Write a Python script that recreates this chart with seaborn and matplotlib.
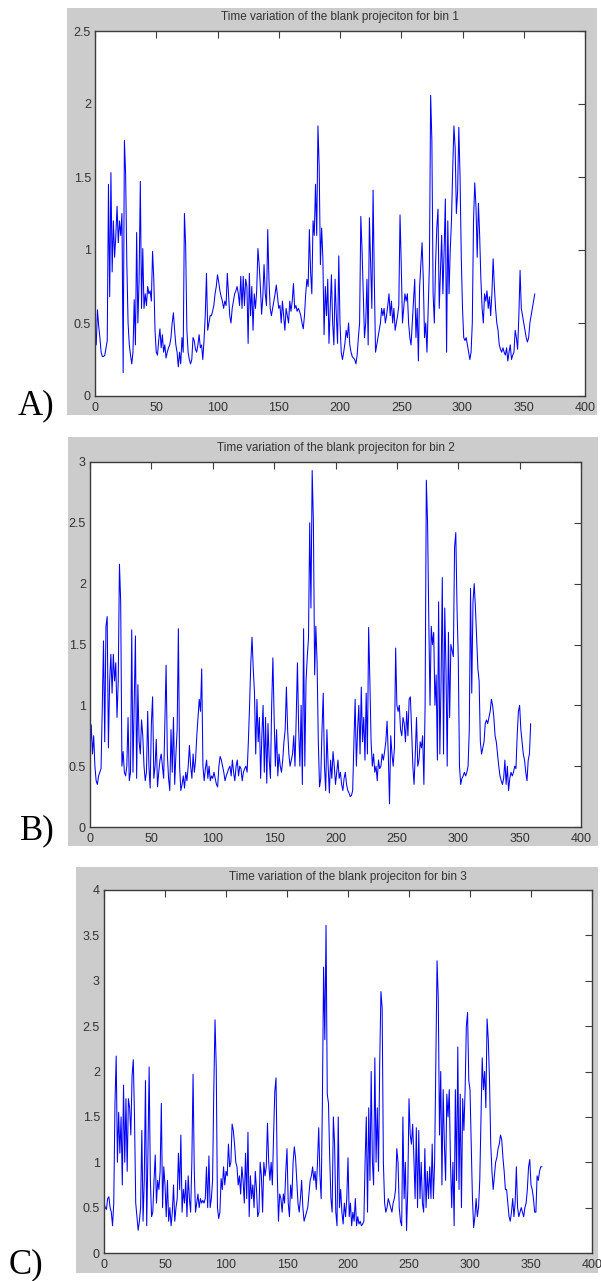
import numpy as np
import pandas as pd
import matplotlib
matplotlib.use("Agg")
import matplotlib.pyplot as plt
from matplotlib.patches import Rectangle
import seaborn as sns

# Blank projection values per time step (bins 1-3)
bin1 = [
    0.40, 0.35, 0.59, 0.48, 0.40, 0.30, 0.27, 0.27, 0.28, 0.33,
    0.38, 1.45, 0.68, 1.53, 0.85, 1.20, 0.95, 1.10, 1.30, 1.05,
    1.20, 1.10, 1.25, 0.16, 1.75, 1.52, 0.90, 0.50, 0.35, 0.28,
    0.22, 0.30, 0.66, 0.35, 1.12, 0.50, 0.80, 1.47, 0.60, 1.01,
    0.60, 0.70, 0.62, 0.75, 0.70, 0.72, 0.65, 0.99, 0.80, 0.45,
    0.30, 0.28, 0.38, 0.46, 0.33, 0.42, 0.30, 0.35, 0.26, 0.30,
    0.33, 0.35, 0.40, 0.50, 0.57, 0.45, 0.35, 0.30, 0.20, 0.30,
    0.22, 0.40, 0.30, 1.25, 1.03, 0.45, 0.30, 0.25, 0.22, 0.25,
    0.40, 0.38, 0.32, 0.30, 0.35, 0.42, 0.33, 0.35, 0.25, 0.38,
    0.55, 0.84, 0.45, 0.50, 0.55, 0.55, 0.58, 0.62, 0.70, 0.75,
    0.83, 0.78, 0.72, 0.68, 0.65, 0.60, 0.65, 0.62, 0.84, 0.70,
    0.55, 0.50, 0.60, 0.65, 0.70, 0.72, 0.75, 0.70, 0.62, 0.82,
    0.60, 0.82, 0.62, 0.80, 0.75, 0.36, 0.84, 0.55, 0.75, 0.45,
    0.70, 0.60, 0.72, 1.01, 0.90, 0.75, 0.56, 0.68, 0.90, 0.70,
    0.62, 1.14, 0.80, 0.60, 0.55, 0.60, 0.65, 0.70, 0.76, 0.68,
    0.60, 0.62, 0.50, 0.65, 0.55, 0.45, 0.60, 0.55, 0.50, 0.65,
    0.58, 0.65, 0.77, 0.60, 0.62, 0.58, 0.60, 0.58, 0.55, 0.50,
    0.46, 0.55, 0.70, 0.80, 0.75, 1.14, 0.85, 0.70, 1.20, 1.10,
    1.45, 1.10, 1.85, 1.57, 0.90, 1.15, 0.95, 0.42, 0.75, 0.55,
    0.80, 0.36, 0.60, 0.83, 0.50, 0.35, 0.80, 0.55, 0.36, 0.96,
    0.50, 0.30, 0.25, 0.30, 0.36, 0.45, 0.40, 0.50, 0.35, 0.30,
    0.27, 0.26, 0.25, 0.22, 0.28, 0.40, 0.50, 1.23, 1.00, 0.70,
    0.40, 0.50, 0.80, 0.35, 1.22, 0.90, 0.60, 1.41, 0.80, 0.30,
    0.35, 0.40, 0.45, 0.50, 0.60, 0.55, 0.60, 0.50, 0.55, 0.62,
    0.70, 0.55, 0.65, 0.50, 0.60, 0.45, 0.50, 0.55, 0.62, 1.24,
    0.90, 0.50, 0.60, 0.70, 0.65, 0.70, 0.50, 0.40, 0.35, 0.50,
    0.65, 0.80, 0.40, 0.60, 0.24, 0.75, 0.90, 1.05, 0.80, 0.40,
    0.50, 0.30, 0.60, 0.90, 2.06, 1.75, 0.70, 0.50, 0.90, 1.15,
    1.28, 0.60, 0.85, 1.10, 0.70, 1.00, 1.35, 0.30, 1.20, 0.70,
    1.00, 1.20, 1.55, 1.85, 1.70, 1.25, 1.40, 1.84, 1.50, 0.95,
    0.60, 0.40, 0.38, 0.40, 0.35, 0.30, 0.25, 0.30, 0.50, 1.20,
    1.46, 1.30, 0.95, 1.32, 1.10, 0.80, 0.60, 0.50, 0.70, 0.65,
    0.72, 0.60, 0.68, 0.55, 0.70, 0.94, 0.75, 0.60, 0.50, 0.45,
    0.35, 0.32, 0.30, 0.33, 0.30, 0.28, 0.33, 0.24, 0.30, 0.35,
    0.25, 0.28, 0.30, 0.45, 0.40, 0.32, 0.55, 0.86, 0.60, 0.55,
    0.50, 0.45, 0.40, 0.37, 0.40, 0.50, 0.55, 0.60, 0.65, 0.70,
]

bin2 = [
    0.60, 0.84, 0.60, 0.75, 0.50, 0.38, 0.35, 0.42, 0.45, 0.48,
    0.98, 1.53, 0.70, 1.65, 1.73, 0.65, 1.20, 1.42, 1.10, 1.42,
    1.20, 1.35, 0.90, 1.20, 2.16, 1.85, 0.50, 0.62, 0.45, 0.42,
    0.50, 0.90, 0.38, 0.45, 1.62, 0.45, 1.00, 1.57, 0.40, 1.17,
    0.70, 0.60, 0.88, 0.75, 0.50, 0.38, 0.45, 0.95, 0.50, 0.32,
    0.85, 1.07, 0.40, 0.50, 0.72, 0.33, 0.45, 0.55, 0.60, 0.50,
    0.40, 0.85, 1.33, 0.60, 0.40, 0.30, 0.80, 0.45, 0.90, 0.35,
    0.60, 0.80, 1.63, 0.50, 0.30, 0.35, 0.42, 0.32, 0.45, 0.38,
    0.50, 0.67, 0.50, 0.40, 0.60, 0.45, 0.55, 0.75, 0.90, 1.05,
    0.95, 1.30, 0.50, 0.38, 0.48, 0.55, 0.40, 0.50, 0.38, 0.42,
    0.40, 0.45, 0.40, 0.35, 0.33, 0.50, 0.58, 0.55, 0.50, 0.45,
    0.38, 0.42, 0.45, 0.48, 0.50, 0.42, 0.55, 0.45, 0.38, 0.50,
    0.55, 0.42, 0.50, 0.48, 0.38, 0.45, 0.48, 0.50, 0.45, 0.70,
    1.00, 1.35, 1.56, 1.30, 1.10, 0.60, 1.05, 0.70, 0.90, 0.40,
    0.75, 1.00, 0.45, 0.90, 0.36, 0.85, 0.55, 0.40, 1.00, 1.39,
    0.90, 0.50, 0.80, 0.42, 0.60, 0.50, 0.45, 0.55, 0.70, 0.80,
    1.15, 0.80, 0.60, 0.50, 0.55, 0.60, 0.75, 0.50, 0.90, 1.35,
    0.80, 0.50, 1.00, 0.35, 1.63, 0.50, 1.20, 1.40, 1.55, 2.50,
    1.80, 2.93, 2.50, 1.25, 1.65, 1.35, 0.70, 0.33, 0.40, 0.80,
    1.10, 0.50, 0.30, 0.80, 0.50, 0.28, 0.55, 0.40, 0.62, 0.50,
    0.35, 0.45, 0.55, 0.40, 0.45, 0.35, 0.30, 0.40, 0.45, 0.35,
    0.30, 0.28, 0.25, 0.26, 0.30, 0.70, 1.05, 0.50, 0.80, 1.00,
    0.60, 1.15, 0.70, 0.90, 0.55, 1.10, 0.60, 1.64, 1.20, 0.70,
    0.50, 0.60, 0.45, 0.50, 0.38, 0.55, 0.48, 0.50, 0.60, 0.55,
    0.62, 0.70, 0.87, 0.60, 0.19, 0.75, 0.60, 0.50, 0.65, 1.47,
    1.00, 0.95, 1.00, 0.80, 0.75, 0.90, 0.85, 0.70, 0.95, 0.75,
    1.05, 1.07, 0.80, 0.50, 0.35, 0.60, 0.90, 0.50, 0.55, 0.70,
    0.65, 0.75, 0.35, 1.00, 2.85, 2.50, 1.70, 1.00, 1.65, 1.50,
    1.60, 1.00, 1.25, 0.55, 1.85, 0.60, 1.20, 2.05, 0.60, 1.80,
    1.30, 0.50, 1.60, 0.90, 1.50, 1.45, 1.40, 2.30, 2.42, 1.80,
    1.40, 0.50, 0.35, 0.40, 0.42, 0.45, 0.42, 0.45, 0.50, 0.80,
    1.96, 1.10, 1.85, 2.00, 1.80, 1.55, 1.30, 1.20, 0.70, 0.60,
    0.65, 0.70, 0.85, 0.88, 0.85, 0.90, 0.95, 1.05, 1.00, 0.90,
    0.75, 0.70, 0.60, 0.50, 0.42, 0.38, 0.35, 0.40, 0.55, 0.35,
    0.50, 0.30, 0.40, 0.45, 0.42, 0.45, 0.50, 0.48, 0.75, 0.95,
    1.00, 0.80, 0.70, 0.60, 0.55, 0.45, 0.38, 0.55, 0.60, 0.85,
]

bin3 = [
    0.55, 0.50, 0.48, 0.60, 0.62, 0.50, 0.45, 0.30, 0.55, 1.65,
    2.17, 1.00, 1.55, 1.10, 1.50, 0.75, 1.85, 1.00, 1.70, 0.90,
    1.70, 1.60, 1.30, 1.95, 2.13, 1.50, 0.55, 0.40, 0.25, 0.35,
    0.50, 1.35, 0.35, 0.80, 1.90, 0.30, 1.10, 2.05, 0.80, 0.40,
    0.45, 0.80, 1.08, 0.55, 0.80, 0.70, 0.90, 1.65, 0.50, 0.95,
    0.75, 0.40, 0.80, 0.35, 0.50, 0.30, 0.45, 0.75, 0.35, 0.50,
    0.60, 1.10, 0.70, 1.30, 0.45, 0.70, 0.55, 0.80, 0.40, 0.85,
    0.60, 0.45, 1.00, 1.97, 0.90, 0.45, 0.55, 0.65, 0.50, 0.60,
    0.55, 0.58, 0.55, 0.60, 0.95, 0.50, 1.07, 0.50, 0.60, 0.80,
    1.80, 2.57, 2.05, 0.50, 0.38, 0.45, 0.82, 0.70, 0.95, 0.75,
    0.90, 0.85, 1.20, 0.95, 1.00, 1.42, 1.35, 1.20, 1.00, 0.95,
    0.75, 0.85, 0.65, 0.95, 0.80, 0.55, 1.10, 0.60, 1.33, 0.40,
    0.85, 0.60, 0.75, 0.50, 0.90, 0.70, 0.40, 0.45, 1.00, 0.85,
    0.45, 1.00, 0.85, 0.95, 1.43, 1.00, 0.80, 1.00, 0.75, 1.30,
    1.78, 1.93, 0.90, 0.35, 0.65, 0.60, 0.45, 0.65, 0.55, 0.90,
    1.15, 0.55, 0.40, 0.75, 0.60, 1.00, 1.17, 1.05, 0.80, 0.55,
    0.45, 0.60, 0.80, 0.50, 0.35, 0.40, 0.45, 0.50, 0.65, 0.80,
    0.85, 0.95, 0.80, 0.90, 0.70, 1.00, 1.38, 0.85, 0.60, 1.65,
    3.15, 2.35, 3.61, 1.75, 1.65, 1.05, 0.60, 0.45, 1.50, 1.20,
    0.45, 0.30, 1.50, 0.50, 0.70, 0.45, 0.32, 0.55, 0.40, 0.60,
    1.05, 0.40, 0.55, 0.30, 0.45, 0.35, 0.60, 0.30, 0.40, 0.32,
    0.35, 0.30, 0.32, 0.35, 1.00, 1.50, 0.45, 1.60, 0.80, 2.00,
    1.00, 0.75, 2.15, 1.00, 1.60, 0.90, 2.10, 2.88, 2.70, 1.00,
    0.55, 0.45, 0.50, 0.60, 0.55, 0.50, 0.45, 0.55, 0.60, 0.70,
    1.15, 1.00, 0.50, 0.35, 0.30, 1.50, 0.60, 1.00, 0.25, 0.70,
    1.70, 1.30, 1.20, 1.42, 1.05, 0.60, 1.38, 0.50, 1.35, 0.60,
    1.00, 0.55, 0.45, 1.15, 0.50, 0.90, 0.60, 0.95, 0.60, 1.20,
    0.60, 1.00, 2.10, 3.22, 2.80, 1.30, 2.00, 0.75, 1.80, 1.20,
    0.80, 1.75, 1.50, 1.80, 1.00, 0.50, 1.00, 0.30, 1.80, 0.80,
    2.27, 0.70, 1.75, 0.50, 1.70, 1.35, 1.80, 2.50, 2.65, 1.90,
    1.80, 1.20, 0.60, 0.28, 0.40, 0.60, 0.40, 0.50, 0.80, 1.50,
    2.15, 1.80, 2.00, 1.60, 2.58, 2.35, 1.90, 1.20, 0.90, 0.70,
    0.85, 1.00, 1.05, 1.15, 1.20, 1.30, 1.25, 1.05, 0.90, 0.70,
    0.70, 0.55, 0.40, 0.35, 0.45, 0.60, 0.40, 0.55, 0.95, 0.50,
    0.40, 0.45, 0.50, 0.45, 0.40, 0.50, 0.55, 0.70, 0.95, 1.03,
    0.75, 0.70, 0.60, 0.45, 0.45, 0.85, 0.80, 0.90, 0.95, 0.95,
]

series = [bin1, bin2, bin3]
titles = [
    "Time variation of the blank projeciton for bin 1",
    "Time variation of the blank projeciton for bin 2",
    "Time variation of the blank projeciton for bin 3",
]
panel_labels = ["A)", "B)", "C)"]
y_maxes = [2.5, 3.0, 4.0]
y_ticks = [
    [0, 0.5, 1, 1.5, 2, 2.5],
    [0, 0.5, 1, 1.5, 2, 2.5, 3],
    [0, 0.5, 1, 1.5, 2, 2.5, 3, 3.5, 4],
]
x_ticks = [0, 50, 100, 150, 200, 250, 300, 350, 400]

sns.set_theme(style="white")
plt.rcParams["font.family"] = ["Liberation Sans", "DejaVu Sans"]

W, H = 601, 1281
fig = plt.figure(figsize=(W / 100, H / 100), dpi=100)
fig.patch.set_facecolor("white")

# pixel layout: gray figure panel, axes box, title centre y, label baseline
layout = [
    dict(bg=(67, 8, 597, 415), ax=(95, 31, 585, 396), title_y=17, lab=(18, 414)),
    dict(bg=(68, 437, 598, 846), ax=(90, 462, 581, 827), title_y=448, lab=(20, 839)),
    dict(bg=(76, 867, 598, 1273), ax=(104, 890, 592, 1253), title_y=877, lab=(9, 1273)),
]


def fx(px):
    return px / W


def fy(py):
    return 1 - py / H


edge = "#3c3c3c"
for i, lay in enumerate(layout):
    x0, y0, x1, y1 = lay["bg"]
    fig.add_artist(Rectangle((fx(x0), fy(y1)), fx(x1) - fx(x0), fy(y0) - fy(y1),
                             transform=fig.transFigure, facecolor="#cccccc",
                             edgecolor="none", zorder=0))
    a0, b0, a1, b1 = lay["ax"]
    ax = fig.add_axes([fx(a0), fy(b1), fx(a1) - fx(a0), fy(b0) - fy(b1)])
    ax.set_zorder(2)
    ax.set_facecolor("white")

    df = pd.DataFrame({"t": np.arange(len(series[i])), "v": series[i]})
    sns.lineplot(data=df, x="t", y="v", ax=ax, color="#0000ff", linewidth=0.75)

    ax.set_xlim(0, 400)
    ax.set_ylim(0, y_maxes[i])
    ax.set_xticks(x_ticks)
    ax.set_xticklabels([str(v) for v in x_ticks])
    ax.set_yticks(y_ticks[i])
    ax.set_yticklabels([f"{v:g}" for v in y_ticks[i]])
    ax.set_xlabel("")
    ax.set_ylabel("")
    ax.tick_params(direction="in", length=5, width=0.8, color=edge,
                   top=True, right=True, labelsize=9, labelcolor="#333333",
                   pad=3)
    ax.tick_params(axis="x", pad=4)
    for s in ax.spines.values():
        s.set_visible(True)
        s.set_color(edge)
        s.set_linewidth(1.0)

    fig.text(fx((a0 + a1) / 2), fy(lay["title_y"]), titles[i],
             ha="center", va="center", fontsize=8.5, color="#333333",
             zorder=3)
    lx, ly = lay["lab"]
    fig.text(fx(lx), fy(ly), panel_labels[i], ha="left", va="baseline",
             fontsize=25, family=["Liberation Serif", "DejaVu Serif"],
             color="black", zorder=3)

fig.savefig("out.png", dpi=100, facecolor="white")
